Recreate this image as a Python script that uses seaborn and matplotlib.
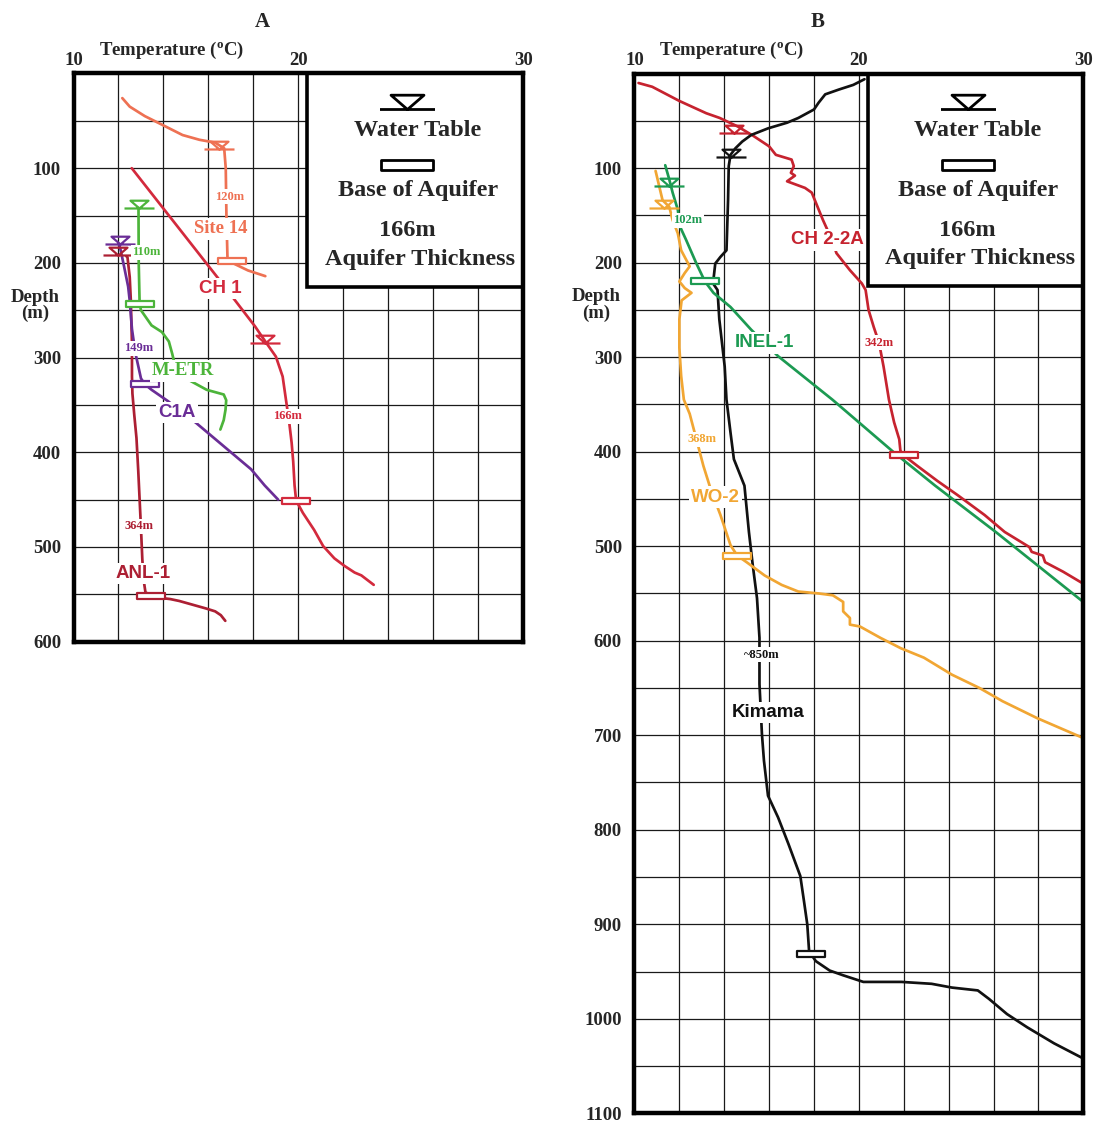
import numpy as np
import matplotlib
matplotlib.use("Agg")
import matplotlib.pyplot as plt
import seaborn as sns
from matplotlib.path import Path
from matplotlib.patches import Rectangle

# ---------------- Panel A data (temperature degC, depth m) ----------------
site14_T = [12.17, 12.5, 13.17, 13.93, 14.85, 15.6, 16.3, 16.7, 16.77, 16.8, 16.85, 17.15, 17.76, 18.53]
site14_D = [26, 35, 45, 54, 65, 70, 73, 79, 100, 150, 198, 201, 208, 214]

ch1_T = [12.59, 16.39, 17.23, 18.07, 18.53, 19.0, 19.3, 19.45, 19.6, 19.7, 19.77, 19.83, 19.9,
         20.2, 20.7, 21.1, 21.6, 22.05, 22.5, 22.8, 23.35]
ch1_D = [100, 215, 241, 267, 283, 299, 320, 345, 370, 390, 410, 435, 451,
         464, 482, 499, 512, 520, 527, 530, 540]

metr_T = [12.89, 12.9, 12.94, 13.0, 13.47, 13.93, 14.24, 14.39, 14.47, 15.15, 15.92, 16.68,
          16.79, 16.76, 16.68, 16.53]
metr_D = [142, 200, 243, 250, 266, 273, 283, 296, 304, 324, 334, 339, 345, 355, 366, 376]

c1a_T = [12.02, 12.1, 12.25, 12.43, 12.5, 12.6, 12.75, 13.0, 13.17, 13.47, 14.2, 15.45,
         16.7, 17.9, 18.5, 19.1]
c1a_D = [180, 187, 204, 225, 240, 270, 295, 322, 328, 334, 346, 369, 394, 418, 435, 450]

anl_T = [12.35, 12.4, 12.5, 12.55, 12.57, 12.6, 12.6, 12.62, 12.7, 12.8, 12.88, 12.94, 13.0,
         13.06, 13.12, 13.2, 13.47, 13.93, 14.3, 14.7, 15.3, 15.9, 16.3, 16.55, 16.75]
anl_D = [193, 194, 215, 240, 260, 285, 320, 338, 360, 385, 420, 450, 480,
         513, 535, 548, 551, 554, 555, 557, 561, 565, 568, 572, 578]

# water table and base of aquifer symbols, panel A
wtA_T = [16.45, 12.92, 12.08, 11.98, 18.52]
wtA_D = [80, 142, 180, 192, 285]
wtA_names = ["Site 14", "M-ETR", "C1A", "ANL-1", "CH 1"]
baseA_T = [17.03, 12.94, 13.17, 19.89, 13.45]
baseA_D = [198, 243, 328, 451, 552]
baseA_names = ["Site 14", "M-ETR", "C1A", "CH 1", "ANL-1"]

# ---------------- Panel B data ----------------
ch22a_T = [10.18, 10.79, 12.0, 13.2, 13.8, 14.6, 15.3, 16.0, 16.3, 17.0, 17.1, 16.97, 17.15,
           16.8, 17.6, 17.9, 18.4, 18.8, 19.0, 19.6, 20.13, 20.3, 20.43, 20.66, 20.9, 21.1,
           21.34, 21.57, 21.8, 21.85, 22.0, 22.6, 23.5, 24.4, 25.6, 26.5, 27.6, 27.7, 28.2,
           28.3, 29.1, 29.95]
ch22a_D = [10, 14, 29, 42, 47, 56, 66, 77, 86, 91, 98, 105, 108,
           114, 121, 126, 155, 176, 190, 208, 222, 229, 250, 268, 285, 310,
           345, 369, 387, 399, 404, 415, 431, 446, 467, 485, 501, 506, 510,
           517, 527, 539]

kim_T = [20.25, 19.75, 19.1, 18.5, 18.2, 18.0, 17.3, 16.8, 15.95, 15.2, 14.8, 14.5, 14.28,
         14.2, 14.17, 14.1, 13.83, 13.6, 13.5, 13.7, 13.78, 13.9, 14.02, 14.1, 14.28, 14.43,
         14.9, 15.1, 15.27, 15.46, 15.57, 15.57, 15.68, 15.77, 15.95, 16.4, 16.86, 17.39,
         17.55, 17.7, 17.78, 17.85, 18.08, 18.7, 19.3, 20.2, 21.9, 23.24, 24.15, 25.3, 25.8,
         26.6, 27.5, 28.7, 30.0]
kim_D = [6, 12, 17, 22, 31, 38, 47, 52, 58, 65, 72, 79, 86,
         98, 134, 187, 194, 201, 222, 229, 260, 285, 310, 345, 380, 408,
         436, 485, 520, 555, 597, 646, 699, 727, 764, 787, 815, 849,
         875, 900, 928, 931, 939, 949, 954, 961, 961, 963, 967, 970, 979,
         995, 1009, 1026, 1042]

inel_T = [11.37, 11.55, 11.7, 11.93, 12.03, 12.3, 12.76, 13.14, 13.52, 14.28, 15.2, 16.4,
          18.82, 21.57, 23.4, 26.1, 30.0]
inel_D = [97, 112, 126, 144, 162, 176, 201, 220, 232, 247, 271, 299, 345, 401, 436, 485, 559]

wo2_T = [10.94, 11.1, 11.25, 11.55, 11.7, 11.93, 12.08, 12.46, 12.24, 12.0, 12.24, 12.54,
         12.1, 12.0, 12.0, 12.08, 12.2, 12.46, 12.76, 13.07, 13.4, 13.83, 14.28, 14.58, 15.0,
         15.8, 16.56, 17.3, 18.2, 18.84, 19.3, 19.3, 19.6, 19.6, 20.05, 20.96, 21.87, 22.9,
         24.15, 25.37, 26.4, 27.95, 30.0]
wo2_D = [103, 119, 134, 141, 155, 169, 187, 204, 211, 220, 227, 232,
         240, 260, 290, 320, 345, 360, 387, 415, 440, 467, 499, 510, 517,
         531, 541, 548, 550, 552, 559, 569, 576, 583, 585, 597, 608, 618,
         636, 650, 664, 682, 703]

wtB_T = [14.43, 14.3, 11.55, 11.32]
wtB_D = [63, 88, 119, 142]
wtB_names = ["CH 2-2A", "Kimama", "INEL-1", "WO-2"]
baseB_T = [13.14, 22.03, 14.58, 17.85]
baseB_D = [220, 404, 510, 931]
baseB_names = ["INEL-1", "CH 2-2A", "WO-2", "Kimama"]

# ---------------- colours ----------------
colors = {
    "Site 14": "#ee7153", "CH 1": "#d32a3d", "ANL-1": "#ac1f33", "M-ETR": "#4cb43a",
    "C1A": "#6a2d96", "CH 2-2A": "#c6232f", "INEL-1": "#1c9a52", "WO-2": "#f1a633",
    "Kimama": "#111111",
}

# ---------------- style ----------------
sns.set_style("white")
plt.rcParams["font.family"] = ["Liberation Serif", "DejaVu Serif"]
plt.rcParams["font.weight"] = "bold"
plt.rcParams["mathtext.fontset"] = "custom"
plt.rcParams["mathtext.rm"] = "Liberation Serif:bold"
plt.rcParams["mathtext.it"] = "Liberation Serif:bold"
plt.rcParams["mathtext.bf"] = "Liberation Serif:bold"

SERIF = "Liberation Serif"
SANS = "Liberation Sans"

wt_path = Path([(-0.3, 0.26), (0.3, 0.26), (0, 0), (-0.3, 0.26), (-0.5, 0), (0.5, 0)],
               [Path.MOVETO, Path.LINETO, Path.LINETO, Path.CLOSEPOLY, Path.MOVETO, Path.LINETO])
base_path = Path([(-0.5, -0.1), (0.5, -0.1), (0.5, 0.1), (-0.5, 0.1), (-0.5, -0.1)],
                 [Path.MOVETO, Path.LINETO, Path.LINETO, Path.LINETO, Path.CLOSEPOLY])

fig = plt.figure(figsize=(10.93, 11.22), dpi=100)
axA = fig.add_axes([0.06725, 0.4281, 0.4115, 0.5064])
axB = fig.add_axes([0.5805, 0.00775, 0.4106, 0.9267])


def style(ax, dmax):
    ax.set_xlim(10, 30)
    ax.set_ylim(dmax, 0)
    ax.set_xticks([10, 20, 30])
    ax.set_xticks(np.arange(10, 31, 2), minor=True)
    ax.set_yticks(np.arange(100, dmax + 1, 100))
    ax.set_yticks(np.arange(50, dmax, 50), minor=True)
    ax.xaxis.tick_top()
    ax.tick_params(which="both", length=0)
    ax.tick_params(axis="x", pad=3, labelsize=13.5)
    ax.tick_params(axis="y", pad=9, labelsize=13.5)
    ax.grid(which="both", color="#1a1a1a", lw=0.9)
    for lbl in ax.get_xticklabels() + ax.get_yticklabels():
        lbl.set_fontfamily(SERIF)
        lbl.set_fontweight("bold")
    for sp in ax.spines.values():
        sp.set_visible(True)
        sp.set_linewidth(3.2)
        sp.set_color("black")
        sp.set_zorder(6)
    ax.set_xlabel("")
    ax.set_ylabel("")
    ax.annotate(r"Temperature ($^{\mathrm{o}}$C)", xy=(14.35, 1), xycoords=("data", "axes fraction"),
                xytext=(0, 16.6), textcoords="offset points", ha="center", va="center",
                fontsize=13.5, fontfamily=SERIF, fontweight="bold")
    ax.annotate("Depth\n(m)", xy=(0, 245), xycoords=("axes fraction", "data"),
                xytext=(-27.7, 0), textcoords="offset points", ha="center", va="center",
                fontsize=13.5, fontfamily=SERIF, fontweight="bold", linespacing=0.95)
    # legend box
    ax.add_patch(Rectangle((20.4, 0), 9.6, 225, facecolor="white", edgecolor="black",
                           lw=2.6, zorder=2))
    ax.plot([24.85], [38], marker=wt_path, ms=39.6, mec="black", mfc="none", mew=2.0,
            ls="none", zorder=4)
    ax.text(25.3, 60, "Water Table", ha="center", va="center", fontsize=17.5,
            fontfamily=SERIF, fontweight="bold", zorder=4)
    ax.plot([24.85], [97], marker=base_path, ms=37.4, mec="black", mfc="white", mew=2.0,
            ls="none", zorder=4)
    ax.text(25.3, 124, "Base of Aquifer", ha="center", va="center", fontsize=17.5,
            fontfamily=SERIF, fontweight="bold", zorder=4)
    ax.text(24.85, 166, "166m", ha="center", va="center", fontsize=17.5,
            fontfamily=SERIF, fontweight="bold", zorder=4)
    ax.text(25.4, 196, "Aquifer Thickness", ha="center", va="center", fontsize=17.5,
            fontfamily=SERIF, fontweight="bold", zorder=4)


def curve(ax, T, D, name):
    sns.lineplot(x=T, y=D, ax=ax, sort=False, estimator=None, color=colors[name],
                 lw=1.95, zorder=3, legend=False)


def symbols(ax, wT, wD, wN, bT, bD, bN):
    for t, d, n in zip(wT, wD, wN):
        ax.plot([t], [d], marker=wt_path, ms=21.6, mec=colors[n], mfc="none", mew=1.6,
                ls="none", zorder=4)
    for t, d, n in zip(bT, bD, bN):
        ax.plot([t], [d], marker=base_path, ms=19.5, mec=colors[n], mfc="white", mew=1.6,
                ls="none", zorder=4)


bb = dict(boxstyle="square,pad=0.12", fc="white", ec="none")


def small(ax, t, d, s, name):
    ax.text(t, d, s, ha="center", va="center", fontsize=9, fontfamily=SERIF,
            fontweight="bold", color=colors[name], bbox=bb, zorder=5)


def big(ax, t, d, s, name, fam=SANS):
    ax.text(t, d, s, ha="center", va="center", fontsize=13.5, fontfamily=fam,
            fontweight="bold", color=colors[name], bbox=bb, zorder=5)


# ---------------- Panel A ----------------
style(axA, 600)
curve(axA, site14_T, site14_D, "Site 14")
curve(axA, ch1_T, ch1_D, "CH 1")
curve(axA, metr_T, metr_D, "M-ETR")
curve(axA, anl_T, anl_D, "ANL-1")
curve(axA, c1a_T, c1a_D, "C1A")
symbols(axA, wtA_T, wtA_D, wtA_names, baseA_T, baseA_D, baseA_names)
small(axA, 16.92, 130, "120m", "Site 14")
big(axA, 16.55, 164, "Site 14", "Site 14", SERIF)
small(axA, 13.25, 189, "110m", "M-ETR")
big(axA, 16.52, 227, "CH 1", "CH 1")
small(axA, 12.9, 290, "149m", "C1A")
big(axA, 14.87, 314, "M-ETR", "M-ETR", SERIF)
big(axA, 14.6, 358, "C1A", "C1A")
small(axA, 19.5, 362, "166m", "CH 1")
small(axA, 12.9, 478, "364m", "ANL-1")
big(axA, 13.1, 528, "ANL-1", "ANL-1")

# ---------------- Panel B ----------------
style(axB, 1100)
curve(axB, ch22a_T, ch22a_D, "CH 2-2A")
curve(axB, kim_T, kim_D, "Kimama")
curve(axB, wo2_T, wo2_D, "WO-2")
curve(axB, inel_T, inel_D, "INEL-1")
symbols(axB, wtB_T, wtB_D, wtB_names, baseB_T, baseB_D, baseB_names)
small(axB, 12.38, 155, "102m", "INEL-1")
big(axB, 18.6, 176, "CH 2-2A", "CH 2-2A")
big(axB, 15.8, 285, "INEL-1", "INEL-1")
small(axB, 20.92, 285, "342m", "CH 2-2A")
small(axB, 12.99, 387, "368m", "WO-2")
big(axB, 13.6, 448, "WO-2", "WO-2")
small(axB, 15.68, 615, "~850m", "Kimama")
big(axB, 15.95, 676, "Kimama", "Kimama")

fig.text(0.2397, 0.980, "A", ha="center", va="center", fontsize=15, fontfamily=SERIF,
         fontweight="bold")
fig.text(0.7484, 0.980, "B", ha="center", va="center", fontsize=15, fontfamily=SERIF,
         fontweight="bold")

fig.savefig("out.png", dpi=100)
